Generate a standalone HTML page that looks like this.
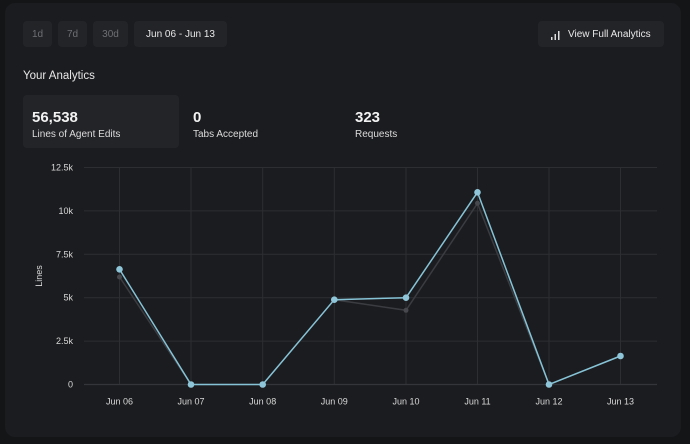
<!DOCTYPE html>
<html><head><meta charset="utf-8"><style>
html,body{margin:0;padding:0;width:690px;height:444px;overflow:hidden;background:#141517;font-family:"Liberation Sans",sans-serif;}
.card{position:absolute;left:5px;top:3px;width:676px;height:434px;background:#1b1c1f;border-radius:10px;}
.btn{position:absolute;top:21px;height:26px;background:#232428;border-radius:4px;color:#6d6f74;font-size:10px;line-height:28px;text-align:center;}
.t{position:absolute;color:#e8e8e8;white-space:nowrap;}
.val{font-size:15px;font-weight:bold;color:#f2f2f2;}
.lab{font-size:10px;color:#dcdcdc;}
</style></head><body>
<div class="card"></div>
<div class="btn" style="left:23px;width:29px;">1d</div>
<div class="btn" style="left:58px;width:29px;">7d</div>
<div class="btn" style="left:93px;width:35px;">30d</div>
<div class="btn" style="left:134px;width:93px;color:#e8e8e8;">Jun 06 - Jun 13</div>
<div class="btn" style="left:538px;width:126px;color:#e8e8e8;">
<svg width="10" height="9" style="position:absolute;left:13px;top:10px" viewBox="0 0 10 9"><rect x="0" y="6" width="1.5" height="3" fill="#ddd"/><rect x="3.5" y="3" width="1.5" height="6" fill="#ddd"/><rect x="7" y="0" width="1.5" height="9" fill="#ddd"/></svg>
<span style="position:absolute;left:30px;top:0;">View Full Analytics</span></div>
<div class="t" style="left:23px;top:70px;font-size:11.5px;">Your Analytics</div>
<div style="position:absolute;left:23px;top:95px;width:156px;height:53px;background:#232428;border-radius:4px;"></div>
<div class="t val" style="left:32px;top:109px;">56,538</div>
<div class="t lab" style="left:32px;top:129px;">Lines of Agent Edits</div>
<div class="t val" style="left:193px;top:109px;">0</div>
<div class="t lab" style="left:193px;top:129px;">Tabs Accepted</div>
<div class="t val" style="left:355px;top:109px;">323</div>
<div class="t lab" style="left:355px;top:129px;">Requests</div>
<svg style="position:absolute;left:0;top:0" width="690" height="444" viewBox="0 0 690 444">
<g stroke="#2d2e32" stroke-width="1">
<line x1="84" y1="167.5" x2="657" y2="167.5"/>
<line x1="84" y1="210.9" x2="657" y2="210.9"/>
<line x1="84" y1="254.3" x2="657" y2="254.3"/>
<line x1="84" y1="297.7" x2="657" y2="297.7"/>
<line x1="84" y1="341.1" x2="657" y2="341.1"/>
<line x1="119.5" y1="167.5" x2="119.5" y2="384.5"/>
<line x1="191" y1="167.5" x2="191" y2="384.5"/>
<line x1="262.7" y1="167.5" x2="262.7" y2="384.5"/>
<line x1="334.3" y1="167.5" x2="334.3" y2="384.5"/>
<line x1="406" y1="167.5" x2="406" y2="384.5"/>
<line x1="477.5" y1="167.5" x2="477.5" y2="384.5"/>
<line x1="549" y1="167.5" x2="549" y2="384.5"/>
<line x1="620.5" y1="167.5" x2="620.5" y2="384.5"/>
</g>
<line x1="84" y1="384.5" x2="657" y2="384.5" stroke="#34353a" stroke-width="1.2"/>
<g font-family="Liberation Sans, sans-serif" font-size="9" fill="#d8d8d8" text-anchor="end">
<text x="73" y="170.5">12.5k</text>
<text x="73" y="213.9">10k</text>
<text x="73" y="257.3">7.5k</text>
<text x="73" y="300.7">5k</text>
<text x="73" y="344.1">2.5k</text>
<text x="73" y="387.5">0</text>
</g>
<text x="0" y="0" transform="translate(42,276) rotate(-90)" font-family="Liberation Sans, sans-serif" font-size="9" fill="#d8d8d8" text-anchor="middle">Lines</text>
<g font-family="Liberation Sans, sans-serif" font-size="9" fill="#d8d8d8" text-anchor="middle">
<text x="119.5" y="404.5">Jun 06</text>
<text x="191" y="404.5">Jun 07</text>
<text x="262.7" y="404.5">Jun 08</text>
<text x="334.3" y="404.5">Jun 09</text>
<text x="406" y="404.5">Jun 10</text>
<text x="477.5" y="404.5">Jun 11</text>
<text x="549" y="404.5">Jun 12</text>
<text x="620.5" y="404.5">Jun 13</text>
</g>
<polyline fill="none" stroke="#3a3c42" stroke-width="1.5" points="119.5,277 191,384.5 262.7,384.5 334.3,299.7 406,310.3 477.5,203.3 549,384.5 620.5,356"/>
<g fill="#46484e">
<circle cx="119.5" cy="277" r="2.5"/><circle cx="406" cy="310.3" r="2.5"/><circle cx="477.5" cy="203.3" r="2.5"/>
</g>
<polyline fill="none" stroke="#86c3d6" stroke-width="1.5" points="119.5,269.3 191,384.5 262.7,384.5 334.3,299.7 406,297.7 477.5,192.3 549,384.5 620.5,356"/>
<g fill="#8ec5d8">
<circle cx="119.5" cy="269.3" r="3.3"/><circle cx="191" cy="384.5" r="3.3"/><circle cx="262.7" cy="384.5" r="3.3"/><circle cx="334.3" cy="299.7" r="3.3"/><circle cx="406" cy="297.7" r="3.3"/><circle cx="477.5" cy="192.3" r="3.3"/><circle cx="549" cy="384.5" r="3.3"/><circle cx="620.5" cy="356" r="3.3"/>
</g>
</svg>
</body></html>
